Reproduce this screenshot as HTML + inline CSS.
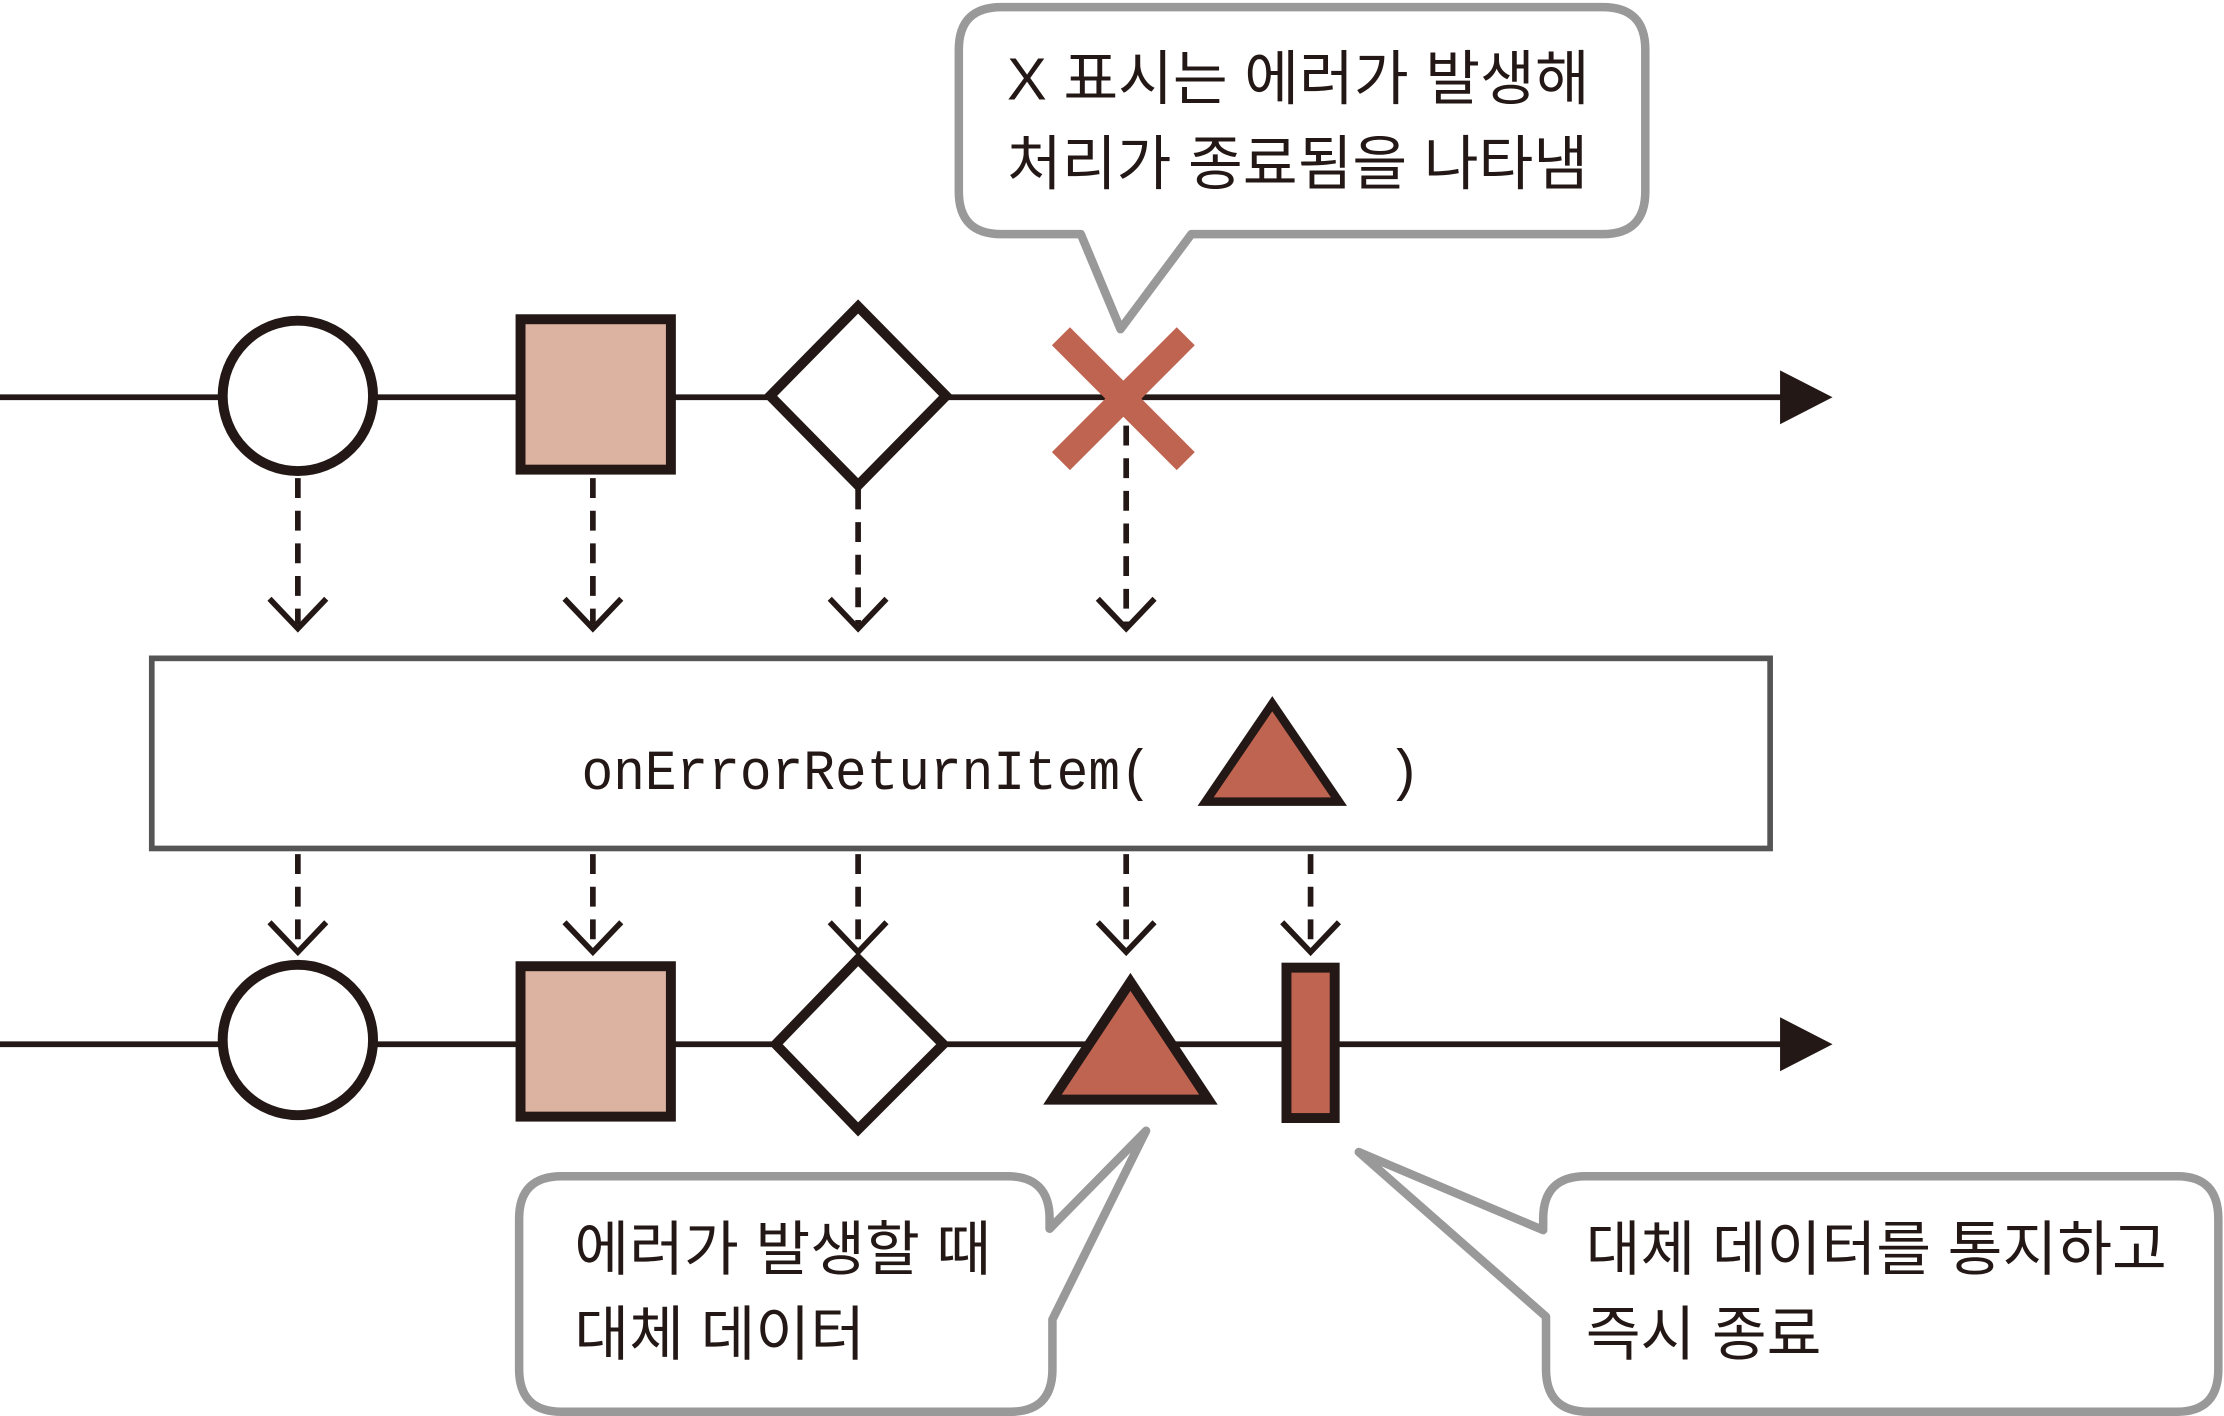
<!DOCTYPE html>
<html><head><meta charset="utf-8"><style>
html,body{margin:0;padding:0;background:#fff;}
svg{display:block;}
.k{font-family:"Liberation Sans","Noto Sans CJK KR",sans-serif;font-size:42px;fill:#231815;}
.m{font-family:"Liberation Mono","DejaVu Sans Mono",monospace;font-size:40px;fill:#231815;}
</style></head><body>
<svg width="2224" height="1416" viewBox="0 0 1568 998" preserveAspectRatio="none" xmlns="http://www.w3.org/2000/svg">
<rect width="1568" height="998" fill="#fff"/>
<path d="M706,5 H1130 Q1160,5 1160,35 V135 Q1160,165 1130,165 H840 L790,232 L762,165 H706 Q676,165 676,135 V35 Q676,5 706,5 Z" fill="#fff" stroke="#999" stroke-width="6" stroke-linejoin="round"/>
<text class="k" x="710" y="70">X 표시는 에러가 발생해</text>
<text class="k" x="710" y="130">처리가 종료됨을 나타냄</text>
<line x1="0" y1="280" x2="1258" y2="280" stroke="#231815" stroke-width="4"/>
<polygon points="1255,261 1292,280 1255,299" fill="#231815"/>
<circle cx="210" cy="279" r="53" fill="#fff" stroke="#231815" stroke-width="7"/>
<rect x="367" y="225" width="106" height="106" fill="#dcb3a0" stroke="#231815" stroke-width="7"/>
<polygon points="605,216 667,279 605,342 543,279" fill="#fff" stroke="#231815" stroke-width="7"/>
<g stroke="#bf6450" stroke-width="18"><line x1="748" y1="237" x2="836" y2="325"/><line x1="836" y1="237" x2="748" y2="325"/></g>
<g stroke="#231815" stroke-width="4" fill="none" stroke-dasharray="14,9">
<line x1="210" y1="337" x2="210" y2="440"/><line x1="418" y1="337" x2="418" y2="440"/>
<line x1="605" y1="345" x2="605" y2="440"/><line x1="794" y1="300" x2="794" y2="440"/>
<line x1="210" y1="602" x2="210" y2="670"/><line x1="418" y1="602" x2="418" y2="670"/>
<line x1="605" y1="602" x2="605" y2="670"/><line x1="794" y1="602" x2="794" y2="670"/>
<line x1="924" y1="602" x2="924" y2="670"/>
</g>
<g stroke="#231815" stroke-width="4" fill="none">
<polyline points="190,422 210,443 230,422"/><polyline points="398,422 418,443 438,422"/>
<polyline points="585,422 605,443 625,422"/><polyline points="774,422 794,443 814,422"/>
<polyline points="190,650 210,671 230,650"/><polyline points="398,650 418,671 438,650"/>
<polyline points="585,650 605,671 625,650"/><polyline points="774,650 794,671 814,650"/>
<polyline points="904,650 924,671 944,650"/>
</g>
<rect x="107" y="464" width="1141" height="134" fill="#fff" stroke="#555" stroke-width="4"/>
<text class="m" x="410" y="556" textLength="402" lengthAdjust="spacingAndGlyphs">onErrorReturnItem(</text>
<polygon points="850,565 897,496 944,565" fill="#bf6450" stroke="#231815" stroke-width="6"/>
<text class="m" x="978" y="556">)</text>
<line x1="0" y1="736" x2="1258" y2="736" stroke="#231815" stroke-width="4"/>
<polygon points="1255,717 1292,736 1255,755" fill="#231815"/>
<circle cx="210" cy="733" r="53" fill="#fff" stroke="#231815" stroke-width="7"/>
<rect x="367" y="681" width="106" height="106" fill="#dcb3a0" stroke="#231815" stroke-width="7"/>
<polygon points="605,676 665,736 605,796 547,736" fill="#fff" stroke="#231815" stroke-width="7"/>
<polygon points="742,775 797,692 852,775" fill="#bf6450" stroke="#231815" stroke-width="7"/>
<rect x="907" y="682" width="34" height="106" fill="#bf6450" stroke="#231815" stroke-width="7"/>
<path d="M396,829 H710 Q740,829 740,859 V866 L808,797 L742,930 V965 Q742,995 712,995 H396 Q366,995 366,965 V859 Q366,829 396,829 Z" fill="#fff" stroke="#999" stroke-width="6" stroke-linejoin="round"/>
<text class="k" x="405" y="895">에러가 발생할 때</text>
<text class="k" x="405" y="955">대체 데이터</text>
<path d="M1118,829 H1535 Q1564,829 1564,859 V965 Q1564,995 1535,995 H1120 Q1090,995 1090,965 V928 L958,812 L1088,867 V859 Q1088,829 1118,829 Z" fill="#fff" stroke="#999" stroke-width="6" stroke-linejoin="round"/>
<text class="k" x="1118" y="895">대체 데이터를 통지하고</text>
<text class="k" x="1118" y="955">즉시 종료</text>
</svg>
</body></html>
